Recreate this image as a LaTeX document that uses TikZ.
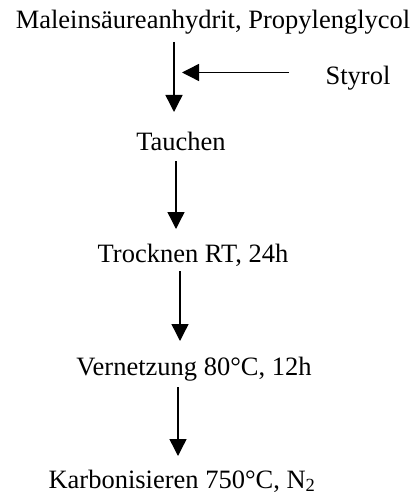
\documentclass[tikz,border=0pt]{standalone}
\usepackage{fontspec}
\setmainfont{Liberation Serif}
\usetikzlibrary{arrows.meta}
\begin{document}
\begin{tikzpicture}[x=1pt,y=-1pt,
  lbl/.style={anchor=base,inner sep=0pt,font=\fontsize{26.5}{30}\selectfont},
  arr/.style={line width=1.4pt,-{Triangle[length=17pt,width=17pt]}}]
\useasboundingbox (0,0) rectangle (418,497);
\node[lbl] (title) at (213,29) {Maleinsäureanhydrit, Propylenglycol};
\node[lbl] (styrol) at (358,85) {Styrol};
\node[lbl] (tauchen) at (181,150) {Tauchen};
\node[lbl] (trocknen) at (193,262) {Trocknen RT, 24h};
\node[lbl] (vernetzung) at (194,375) {Vernetzung 80°C, 12h};
\node[lbl] (karbon) at (182,488) {Karbonisieren 750°C, N\textsubscript{2}};
\coordinate (a1s) at (174,42);   \coordinate (a1e) at (174,112);
\coordinate (s1s) at (289,72.5); \coordinate (s1e) at (182,72.5);
\coordinate (a2s) at (176,161);  \coordinate (a2e) at (176,229);
\coordinate (a3s) at (180,271);  \coordinate (a3e) at (180,341);
\coordinate (a4s) at (178,387);  \coordinate (a4e) at (178,456);
\draw[arr] (a1s) -- (a1e);
\draw[arr] (s1s) -- (s1e);
\draw[arr] (a2s) -- (a2e);
\draw[arr] (a3s) -- (a3e);
\draw[arr] (a4s) -- (a4e);
\end{tikzpicture}
\end{document}
